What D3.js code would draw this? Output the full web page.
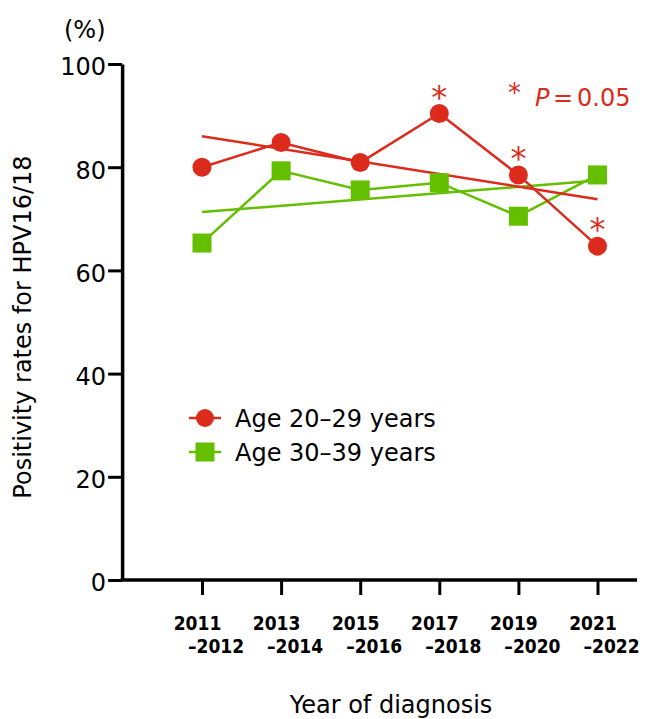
<!DOCTYPE html>
<html>
<head>
<meta charset="utf-8">
<script src="https://cdn.jsdelivr.net/npm/d3@7"></script>
<style>
body { margin: 0; background: #fff; }
svg text { font-family: "DejaVu Sans", sans-serif; }
</style>
</head>
<body>
<script>
// periods (two-line tick labels)
var periodStart = ["2011", "2013", "2015", "2017", "2019", "2021"];
var periodEnd = ["\u20132012", "\u20132014", "\u20132016", "\u20132018", "\u20132020", "\u20132022"];
// positivity rates (%)
var age20 = [80.0, 84.8, 80.9, 90.4, 78.5, 64.7];
var age30 = [65.3, 79.3, 75.6, 77.0, 70.5, 78.5];
// regression lines, value at first and last period
var trend20 = [86.0, 73.8];
var trend30 = [71.3, 77.4];
// periods marked with * for age 20-29
var starred20 = [false, false, false, true, true, true];
var yTicks = [0, 20, 40, 60, 80, 100];
var seriesNames = ["Age 20\u201329 years", "Age 30\u201339 years"];

var w = 648;
var h = 719;
var red = "#dc2b1d";
var green = "#64bf00";

var x = d3.scaleLinear().domain([0, 5]).range([202, 597.5]);
var y = d3.scaleLinear().domain([0, 100]).range([580, 64]);
var axisX = x(-1.01); // where the y axis sits

var svg = d3.select("body")
    .append("svg")
    .attr("width", w)
    .attr("height", h);

// y axis
var yAxis = svg.append("g")
    .attr("transform", "translate(" + axisX + ",0)")
    .call(d3.axisLeft(y).tickValues(yTicks).tickSize(14).tickSizeOuter(0).tickPadding(2));
yAxis.select(".domain").attr("stroke", "#000").attr("stroke-width", 3.5);
yAxis.selectAll(".tick line").attr("stroke", "#000").attr("stroke-width", 3);
yAxis.selectAll(".tick text")
    .attr("dy", "0.45em")
    .style("font-size", "24px")
    .attr("fill", "#000");

// x axis: line drawn across the whole plot, ticks at each period
var xAxis = svg.append("g")
    .attr("transform", "translate(0," + y(0) + ")")
    .call(d3.axisBottom(x).tickValues(d3.range(periodStart.length)).tickSize(15).tickSizeOuter(0).tickFormat(""));
xAxis.select(".domain").remove();
xAxis.append("line")
    .attr("x1", axisX - 1.5)
    .attr("x2", x(5.5))
    .attr("stroke", "#000")
    .attr("stroke-width", 3.5);
xAxis.selectAll(".tick line").attr("stroke", "#000").attr("stroke-width", 3);
xAxis.selectAll(".tick").each(function(d) {
    var t = d3.select(this);
    t.append("text")
        .attr("x", -5)
        .attr("y", 50)
        .attr("text-anchor", "middle")
        .style("font-family", "'DejaVu Sans Condensed', 'DejaVu Sans', sans-serif")
        .style("font-size", "19px")
        .style("font-weight", "bold")
        .attr("fill", "#000")
        .text(periodStart[d]);
    t.append("text")
        .attr("x", 13.5)
        .attr("y", 73)
        .attr("text-anchor", "middle")
        .style("font-family", "'DejaVu Sans Condensed', 'DejaVu Sans', sans-serif")
        .style("font-size", "19px")
        .style("font-weight", "bold")
        .attr("fill", "#000")
        .text(periodEnd[d]);
});

// axis titles
svg.append("text")
    .attr("x", 64)
    .attr("y", 38)
    .style("font-size", "24px")
    .text("(%)");
svg.append("text")
    .attr("transform", "translate(31," + 327 + ") rotate(-90)")
    .attr("text-anchor", "middle")
    .style("font-size", "24px")
    .text("Positivity rates for HPV16/18");
svg.append("text")
    .attr("x", 391)
    .attr("y", 713)
    .attr("text-anchor", "middle")
    .style("font-size", "24px")
    .text("Year of diagnosis");

var line = d3.line()
    .x(function(d, i) { return x(i); })
    .y(function(d) { return y(d); });
var trendLine = d3.line()
    .x(function(d, i) { return x(i * 5); })
    .y(function(d) { return y(d); });

// green series
svg.append("path").attr("d", trendLine(trend30))
    .attr("fill", "none").attr("stroke", green).attr("stroke-width", 2.5);
svg.append("path").attr("d", line(age30))
    .attr("fill", "none").attr("stroke", green).attr("stroke-width", 2.5);

// red series
svg.append("path").attr("d", trendLine(trend20))
    .attr("fill", "none").attr("stroke", red).attr("stroke-width", 2.5);
svg.append("path").attr("d", line(age20))
    .attr("fill", "none").attr("stroke", red).attr("stroke-width", 2.5);

svg.append("g").selectAll("rect")
    .data(age30)
    .enter()
    .append("rect")
    .attr("x", function(d, i) { return x(i) - 9.5; })
    .attr("y", function(d) { return y(d) - 9.5; })
    .attr("width", 19)
    .attr("height", 19)
    .attr("fill", green);

svg.append("g").selectAll("circle")
    .data(age20)
    .enter()
    .append("circle")
    .attr("cx", function(d, i) { return x(i); })
    .attr("cy", function(d) { return y(d); })
    .attr("r", 9.5)
    .attr("fill", red);

// significance stars
svg.append("g").selectAll("text")
    .data(age20.map(function(v, i) { return {v: v, i: i}; }).filter(function(d) { return starred20[d.i]; }))
    .enter()
    .append("text")
    .attr("x", function(d) { return x(d.i); })
    .attr("y", function(d) { return y(d.v) - 23 + 17; })
    .attr("text-anchor", "middle")
    .style("font-size", "32px")
    .attr("fill", red)
    .text("*");

var pNote = svg.append("text")
    .attr("x", 508)
    .attr("y", 106)
    .style("font-size", "24px")
    .attr("fill", red);
pNote.append("tspan").style("font-size", "26px").attr("dy", -4).text("*");
pNote.append("tspan").attr("x", 535).attr("dy", 4).style("font-style", "italic").text("P");
pNote.append("tspan").attr("x", 553).text("=");
pNote.append("tspan").attr("x", 577).text("0.05");

// legend
var legend = svg.append("g");
var legendRows = [
    {name: seriesNames[0], color: red, shape: "circle", cy: 418},
    {name: seriesNames[1], color: green, shape: "square", cy: 452}
];
legendRows.forEach(function(r) {
    legend.append("line")
        .attr("x1", 189).attr("x2", 221)
        .attr("y1", r.cy).attr("y2", r.cy)
        .attr("stroke", r.color).attr("stroke-width", 2.5);
    if (r.shape == "circle") {
        legend.append("circle").attr("cx", 205).attr("cy", r.cy).attr("r", 9).attr("fill", r.color);
    } else {
        legend.append("rect").attr("x", 195.5).attr("y", r.cy - 9.5)
            .attr("width", 19).attr("height", 19).attr("fill", r.color);
    }
    legend.append("text")
        .attr("x", 235)
        .attr("y", r.cy + 8.7)
        .style("font-size", "24px")
        .attr("fill", "#000")
        .text(r.name);
});
</script>
</body>
</html>
